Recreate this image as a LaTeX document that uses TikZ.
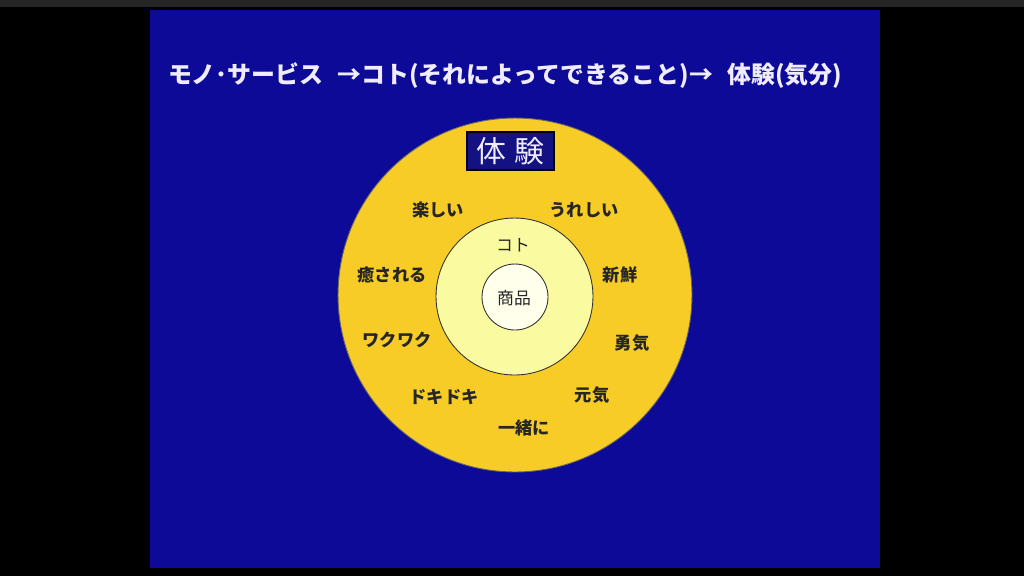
\documentclass[tikz,border=0pt]{standalone}
\usepackage{fontspec}
\newfontfamily\jp{Noto Sans CJK JP}
\usetikzlibrary{positioning}

\definecolor{slideblue}{RGB}{12,10,150}
\definecolor{boxblue}{RGB}{20,18,130}
\definecolor{gold}{RGB}{247,204,38}
\definecolor{paleyellow}{RGB}{250,250,160}
\definecolor{cream}{RGB}{255,255,235}
\definecolor{lavender}{RGB}{240,236,255}

\begin{document}
\begin{tikzpicture}[
    x=0.02cm, y=-0.02cm,
    ring/.style={circle, draw=black!80, line width=0.5pt, inner sep=0pt},
    feeling/.style={font=\jp\bfseries\fontsize{9.8pt}{11pt}\selectfont, text=black!85},
    inner/.style={font=\jp\fontsize{9.6pt}{11pt}\selectfont, text=black!85},
    heading/.style={font=\jp\bfseries\fontsize{13.6pt}{16pt}\selectfont, text=lavender},
    tag/.style={rectangle, draw=black, line width=1pt, fill=boxblue, text=lavender, inner xsep=5pt, inner ysep=3pt, font=\jp\fontsize{17pt}{19pt}\selectfont}
    ]

    % Fondo
    \useasboundingbox (0,0) rectangle (1024,576);
    \fill[black] (0,0) rectangle (1024,576);
    \fill[black!85] (0,0) rectangle (1024,7);
    \fill[slideblue] (150,10) rectangle (880,568);

    % Titulo
    \node[heading] (Titulo) at (505,76) {モノ･サービス\hspace{0.6em}→コト(それによってできること)→\hspace{0.6em}体験(気分)};

    % Circulos
    \node[ring, fill=gold, draw=black!60, minimum size=7.08cm] (Exterior) at (515,295) {};
    \node[ring, fill=paleyellow, minimum size=3.14cm] (Medio) at (514.5,296.5) {};
    \node[ring, fill=cream, minimum size=1.32cm] (Centro) at (515,297) {};

    \node[tag] (Experiencia) at (510.5,151) {体\hspace{0.3em}験};

    % Etiquetas
    \node[inner] (Koto) at (513,245) {コト};
    \node[inner] (Shohin) at (514,298) {商品};

    \node[feeling] (Tanoshii) at (438,210) {楽しい};
    \node[feeling] (Ureshii) at (584,210) {うれしい};
    \node[feeling] (Iyasareru) at (392,275) {癒される};
    \node[feeling] (Shinsen) at (620,275) {新鮮};
    \node[feeling] (Wakuwaku) at (397,340) {ワクワク};
    \node[feeling] (Yuki) at (632,343) {勇気};
    \node[feeling] (Dokidoki) at (444,397) {ドキドキ};
    \node[feeling] (Genki) at (592,395) {元気};
    \node[feeling] (Issho) at (524,428) {一緒に};

\end{tikzpicture}
\end{document}
